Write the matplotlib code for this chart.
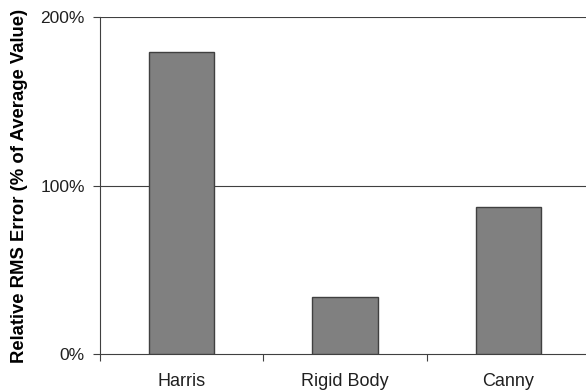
import matplotlib.pyplot as plt

# data
categories = ['Harris', 'Rigid Body', 'Canny']
values = [179, 34, 87]
yticks = [0, 100, 200]

plt.rcParams['font.family'] = ['Liberation Sans', 'DejaVu Sans']

fig = plt.figure(figsize=(5.86, 3.91), dpi=100)
ax = fig.add_axes([100 / 586, (391 - 354) / 391, 490 / 586, 337 / 391])

x = range(len(categories))
ax.bar(x, values, width=0.4, color='#808080', edgecolor='#404040', linewidth=1, zorder=3)

ax.set_xlim(-0.5, len(categories) - 0.5)
ax.set_ylim(0, 200)

# horizontal gridlines
for v in yticks[1:]:
    ax.axhline(v, color='#404040', linewidth=0.8, zorder=1)

ax.set_yticks(yticks)
ax.set_yticklabels([f'{v}%' for v in yticks], fontsize=12.5, color='#202020')
ax.tick_params(axis='y', length=5, width=0.8, color='#404040', pad=6)

ax.set_xticks(list(x))
ax.set_xticklabels(categories, fontsize=13, color='#202020')
ax.set_xticks([i - 0.5 for i in range(len(categories) + 1)], minor=True)
ax.tick_params(axis='x', which='major', length=0, pad=14)
ax.tick_params(axis='x', which='minor', length=5, width=0.8, color='#404040')

for s in ['top', 'right']:
    ax.spines[s].set_visible(False)
for s in ['left', 'bottom']:
    ax.spines[s].set_color('#404040')
    ax.spines[s].set_linewidth(0.8)

ax.set_ylabel('Relative RMS Error (% of Average Value)', fontsize=13.3,
              fontweight='bold', labelpad=9)

fig.savefig('out.png', dpi=100)
